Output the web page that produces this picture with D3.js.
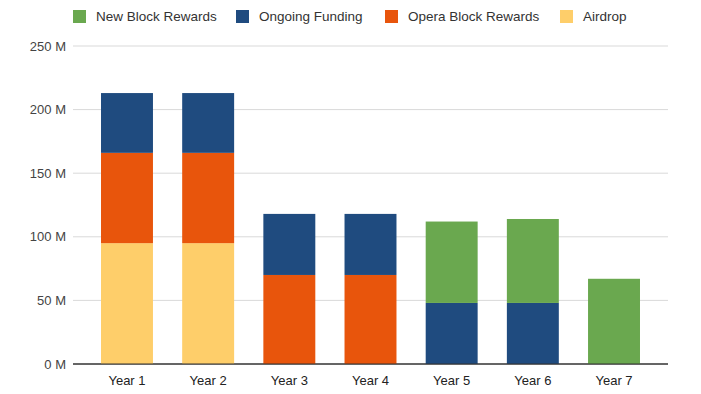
<!DOCTYPE html>
<html>
<head>
<meta charset="utf-8">
<script src="https://cdn.jsdelivr.net/npm/d3@7"></script>
<style>
  body { margin: 0; background: #fff; }
  text { font-family: "Liberation Sans", Arial, sans-serif; }
</style>
</head>
<body>
<svg id="chart" width="701" height="394"></svg>
<script>
const years = ["Year 1", "Year 2", "Year 3", "Year 4", "Year 5", "Year 6", "Year 7"];
const seriesNames = ["New Block Rewards", "Ongoing Funding", "Opera Block Rewards", "Airdrop"];
// values in millions
const airdrop = [95, 95, 0, 0, 0, 0, 0];
const operaBlock = [71, 71, 70, 70, 0, 0, 0];
const ongoing = [47, 47, 48, 48, 48, 48, 0];
const newBlock = [0, 0, 0, 0, 64, 66, 67];
const yTicks = [0, 50, 100, 150, 200, 250];

const colors = {
    "New Block Rewards": "#6aa84f",
    "Ongoing Funding": "#1f4b7f",
    "Opera Block Rewards": "#e8550c",
    "Airdrop": "#fece6a"
};

const rows = years.map((y, i) => ({
    year: y,
    "Airdrop": airdrop[i],
    "Opera Block Rewards": operaBlock[i],
    "Ongoing Funding": ongoing[i],
    "New Block Rewards": newBlock[i]
}));

const svg = d3.select("#chart");
const gridLeft = 73, gridRight = 668;

const x = d3.scaleBand()
    .domain(years)
    .range([86.4, 654.6])
    .paddingInner(0.36)
    .paddingOuter(0.18);

const y = d3.scaleLinear()
    .domain([0, 250])
    .range([364, 46]);

// gridlines + y labels
svg.append("g")
    .selectAll("line")
    .data(yTicks)
    .join("line")
    .attr("x1", gridLeft)
    .attr("x2", gridRight)
    .attr("y1", d => y(d))
    .attr("y2", d => y(d))
    .attr("stroke", d => d === 0 ? "#333" : "#d9d9d9")
    .attr("stroke-width", 1);

svg.append("g")
    .selectAll("text")
    .data(yTicks)
    .join("text")
    .attr("x", 66)
    .attr("y", d => y(d))
    .attr("dy", "0.35em")
    .attr("text-anchor", "end")
    .attr("font-size", 13)
    .attr("fill", "#444")
    .text(d => d + " M");

// stacked bars
const stack = d3.stack()
    .keys(["Airdrop", "Opera Block Rewards", "Ongoing Funding", "New Block Rewards"]);

svg.append("g")
    .selectAll("g")
    .data(stack(rows))
    .join("g")
    .attr("fill", d => colors[d.key])
    .selectAll("rect")
    .data(d => d.filter(s => s[1] > s[0]))
    .join("rect")
    .attr("x", d => x(d.data.year))
    .attr("width", x.bandwidth())
    .attr("y", d => y(d[1]))
    .attr("height", d => y(d[0]) - y(d[1]));

// redraw baseline on top
svg.append("line")
    .attr("x1", gridLeft).attr("x2", gridRight)
    .attr("y1", y(0)).attr("y2", y(0))
    .attr("stroke", "#333");

// x labels
svg.append("g")
    .selectAll("text")
    .data(years)
    .join("text")
    .attr("x", d => x(d) + x.bandwidth() / 2)
    .attr("y", 385)
    .attr("text-anchor", "middle")
    .attr("font-size", 13)
    .attr("fill", "#222")
    .text(d => d);

// legend
const legendX = [73, 236, 385, 560];
const legend = svg.append("g")
    .selectAll("g")
    .data(seriesNames)
    .join("g")
    .attr("transform", (d, i) => `translate(${legendX[i]},10)`);

legend.append("rect")
    .attr("width", 13)
    .attr("height", 13)
    .attr("fill", d => colors[d]);

legend.append("text")
    .attr("x", 23)
    .attr("y", 6.5)
    .attr("dy", "0.35em")
    .attr("font-size", 13.5)
    .attr("fill", "#333")
    .text(d => d);
</script>
</body>
</html>
